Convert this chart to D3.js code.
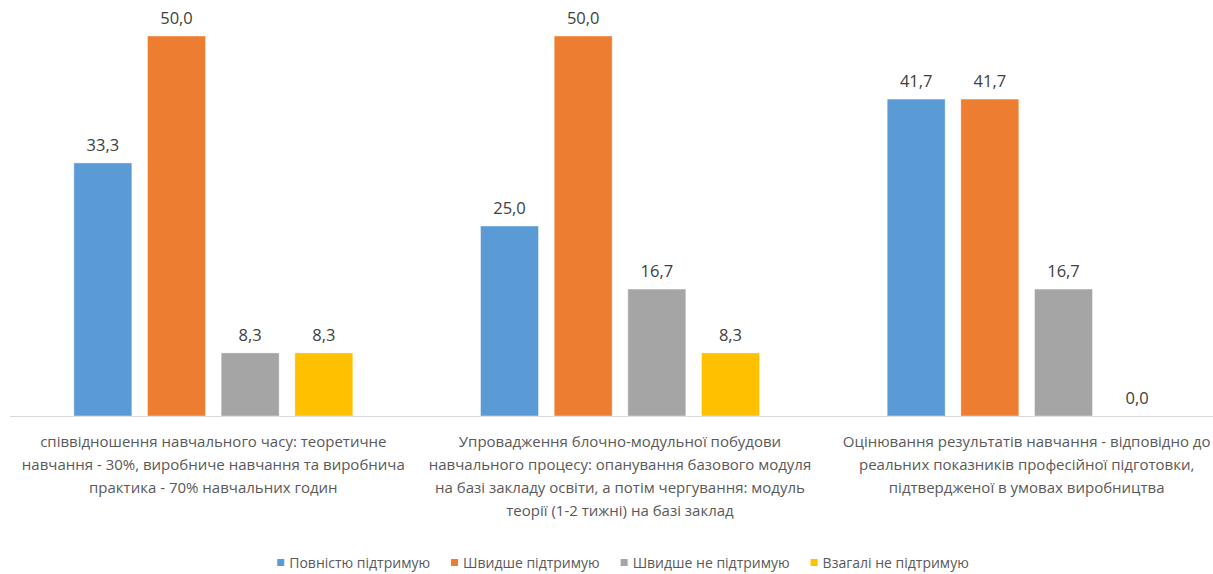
<!DOCTYPE html>
<html>
<head>
<meta charset="utf-8">
<script src="https://cdn.jsdelivr.net/npm/d3@7"></script>
<style>
  body { margin: 0; background: #fff; }
  svg { display: block; }
</style>
</head>
<body>
<svg id="chart" width="1213" height="574"></svg>
<script>
// categories (wrapped as in the original chart)
let categoryLines = [
  ["співвідношення навчального часу: теоретичне",
   "навчання - 30%, виробниче навчання та виробнича",
   "практика - 70% навчальних годин"],
  ["Упровадження блочно-модульної побудови",
   "навчального процесу: опанування базового модуля",
   "на базі закладу освіти, а потім чергування: модуль",
   "теорії (1-2 тижні) на базі заклад"],
  ["Оцінювання результатів навчання - відповідно до",
   "реальних показників професійної підготовки,",
   "підтвердженої в умовах виробництва"]
];
let categories = ["c1", "c2", "c3"];

let seriesNames = [
  "Повністю підтримую",
  "Швидше підтримую",
  "Швидше не підтримую",
  "Взагалі не підтримую"
];
let colors = ["#5B9BD5", "#ED7D31", "#A5A5A5", "#FFC000"];

let fullySupport = [33.3, 25.0, 41.7];
let ratherSupport = [50.0, 50.0, 41.7];
let ratherNot = [8.3, 16.7, 16.7];
let notAtAll = [8.3, 8.3, 0.0];

let seriesValues = [fullySupport, ratherSupport, ratherNot, notAtAll];

let svg = d3.select("#chart");
let font = "'Open Sans', 'Noto Sans', sans-serif";

let x0 = d3.scaleBand().domain(categories).range([10, 1230]);
let x1 = d3.scaleBand()
  .domain(seriesNames)
  .range([0, x0.bandwidth()])
  .paddingInner(0.213)
  .paddingOuter(0.867);
let y = d3.scaleLinear().domain([0, 50]).range([416, 36]);

// flatten into rows
let rows = [];
categories.forEach(function (c, ci) {
  seriesNames.forEach(function (s, si) {
    rows.push({ cat: c, series: s, si: si, value: seriesValues[si][ci] });
  });
});

// baseline
svg.append("line")
  .attr("x1", x0.range()[0])
  .attr("x2", x0.range()[1])
  .attr("y1", y(0) + 0.5)
  .attr("y2", y(0) + 0.5)
  .attr("stroke", "#d9d9d9")
  .attr("stroke-width", 1);

svg.append("g")
  .selectAll("rect")
  .data(rows)
  .enter()
  .append("rect")
  .attr("x", function (d) { return x0(d.cat) + x1(d.series); })
  .attr("y", function (d) { return y(d.value); })
  .attr("width", x1.bandwidth())
  .attr("height", function (d) { return y(0) - y(d.value); })
  .attr("fill", function (d) { return colors[d.si]; })
  .attr("stroke", "#ffffff")
  .attr("stroke-opacity", 0.4)
  .attr("stroke-width", 1);

// value labels
svg.append("g")
  .selectAll("text")
  .data(rows)
  .enter()
  .append("text")
  .attr("x", function (d) { return x0(d.cat) + x1(d.series) + x1.bandwidth() / 2; })
  .attr("y", function (d) { return y(d.value) - 12; })
  .attr("text-anchor", "middle")
  .attr("font-family", font)
  .attr("font-size", "16.5px")
  .attr("fill", "#404040")
  .text(function (d) { return d.value.toFixed(1).replace(".", ","); });

// category labels
let catLabels = svg.append("g")
  .selectAll("text")
  .data(categories)
  .enter()
  .append("text")
  .attr("text-anchor", "middle")
  .attr("font-family", font)
  .attr("font-size", "15px")
  .attr("fill", "#595959");

catLabels.selectAll("tspan")
  .data(function (d, i) {
    return categoryLines[i].map(function (t) { return { cat: d, t: t }; });
  })
  .enter()
  .append("tspan")
  .attr("x", function (d) { return x0(d.cat) + x0.bandwidth() / 2; })
  .attr("y", function (d, i) { return 447 + i * 23; })
  .text(function (d) { return d.t; });

// legend
let legend = svg.append("g");
let item = legend.selectAll("g")
  .data(seriesNames)
  .enter()
  .append("g");

item.append("rect")
  .attr("y", 559)
  .attr("width", 7)
  .attr("height", 7)
  .attr("fill", function (d, i) { return colors[i]; });

item.append("text")
  .attr("x", 12)
  .attr("y", 568)
  .attr("font-family", font)
  .attr("font-size", "14px")
  .attr("fill", "#595959")
  .text(function (d) { return d; });

let widths = [];
item.each(function () {
  let w = 12 + d3.select(this).select("text").node().getComputedTextLength();
  widths.push(w);
});
let total = d3.sum(widths) + 21 * (widths.length - 1);
let offset = 623 - total / 2;
item.attr("transform", function (d, i) {
  let tx = offset;
  offset += widths[i] + 21;
  return "translate(" + tx + ",0)";
});
</script>
</body>
</html>
